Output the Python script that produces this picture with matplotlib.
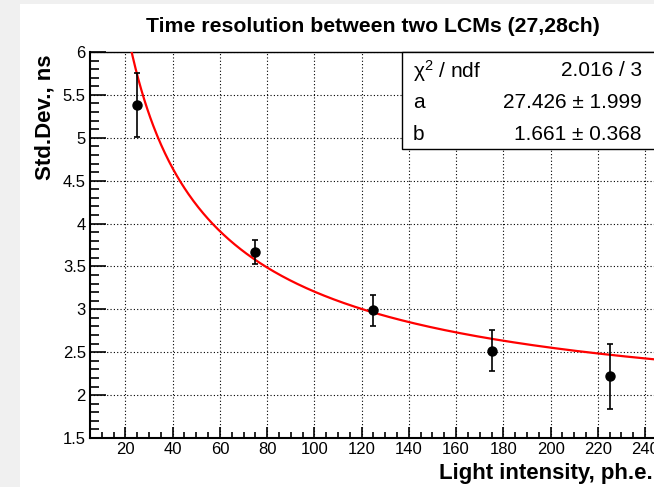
import numpy as np
import matplotlib
matplotlib.use('Agg')
import matplotlib.pyplot as plt
from matplotlib.patches import Rectangle
from matplotlib.ticker import MultipleLocator

plt.rcParams['font.family'] = ['Liberation Sans', 'DejaVu Sans']
plt.rcParams['mathtext.fontset'] = 'custom'
plt.rcParams['mathtext.rm'] = 'Liberation Sans'
plt.rcParams['mathtext.default'] = 'regular'

# data
light = [25, 75, 125, 175, 225]
std_dev = [5.38, 3.665, 2.99, 2.52, 2.22]
std_err = [0.37, 0.14, 0.18, 0.235, 0.38]

# fit parameters from the stats box: sqrt(a^2/x + b^2)
a_par = 27.426
b_par = 1.661
stats_rows = [("χ$^2$ / ndf", "2.016 / 3"),
              ("a", "27.426 ± 1.999"),
              ("b", "1.661 ± 0.368")]

W, H = 654, 487
fig = plt.figure(figsize=(W / 100, H / 100), dpi=100, facecolor='#f0f0f0')
fig.patches.append(Rectangle((20 / W, 0), 1, (H - 4) / H, transform=fig.transFigure,
                             facecolor='white', edgecolor='none', zorder=-10))

x0, x1 = 5, 250
left = 90 / W
bottom = (H - 438) / H
top = (H - 52) / H
width = (x1 - x0) * 2.362 / W
ax = fig.add_axes([left, bottom, width, top - bottom])
ax.set_facecolor('white')

ax.set_xlim(x0, x1)
ax.set_ylim(1.5, 6)
ax.xaxis.set_minor_locator(MultipleLocator(5))
ax.yaxis.set_minor_locator(MultipleLocator(0.1))
ax.set_yticks([1.5, 2, 2.5, 3, 3.5, 4, 4.5, 5, 5.5, 6])
ax.set_yticklabels(['1.5', '2', '2.5', '3', '3.5', '4', '4.5', '5', '5.5', '6'])
ax.set_xticks(np.arange(20, 250, 20))

ax.tick_params(axis='x', which='major', direction='in', length=8, width=1.2, labelsize=12, pad=3)
ax.tick_params(axis='x', which='minor', direction='in', length=4.3, width=1.2)
ax.tick_params(axis='y', which='major', direction='in', length=11.5, width=1.2, labelsize=12, pad=3)
ax.tick_params(axis='y', which='minor', direction='in', length=6.5, width=1.2)
for s in ['left', 'bottom']:
    ax.spines[s].set_linewidth(1.5)
ax.spines['top'].set_linewidth(1.0)
ax.spines['right'].set_visible(False)

ax.grid(True, which='major', color='black', linestyle=(0, (1, 2)), linewidth=0.8)
ax.set_axisbelow(True)

xs = np.linspace(1, x1, 600)
ax.plot(xs, np.sqrt(a_par ** 2 / xs + b_par ** 2), color='red', lw=1.6, zorder=3)
ax.errorbar(light, std_dev, yerr=std_err, fmt='o', color='black', ms=6.5,
            capsize=2.5, elinewidth=1.2, capthick=1.2, zorder=4)

# stats box
bx0, by0, by1 = 401.7 / W, (H - 148.7) / H, (H - 52) / H
fig.patches.append(Rectangle((bx0, by0), 1, by1 - by0, transform=fig.transFigure,
                             facecolor='white', edgecolor='black', lw=1.0, zorder=5))
for i, (name, val) in enumerate(stats_rows):
    yc = (H - (71 + i * 32)) / H
    fig.text(413 / W, yc, name, fontsize=15, va='center', ha='left', zorder=6)
    fig.text(642 / W, yc, val, fontsize=15, va='center', ha='right', zorder=6)

fig.text(373 / W, (H - 27) / H, "Time resolution between two LCMs (27,28ch)",
         fontsize=15.3, fontweight='bold', ha='center', va='center')
fig.text(45 / W, (H - 55) / H, "Std.Dev., ns", fontsize=16, fontweight='bold',
         rotation=90, ha='center', va='top')
fig.text(653 / W, (H - 479) / H, "Light intensity, ph.e.", fontsize=16,
         fontweight='bold', ha='right', va='baseline')

fig.savefig('out.png', dpi=100, facecolor=fig.get_facecolor())
